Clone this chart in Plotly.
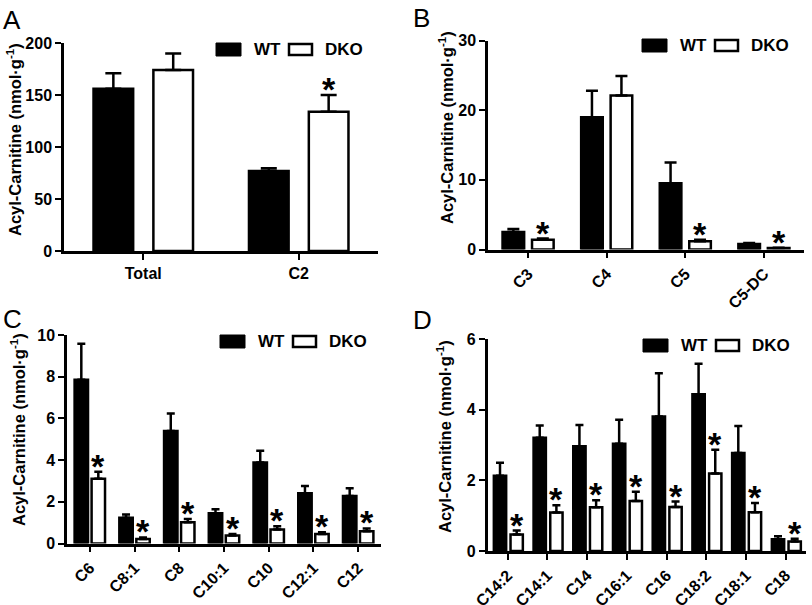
import plotly.graph_objects as go

# ---------------- data ----------------
cats_A = ["Total", "C2"]
wt_A = [156, 77]
wt_A_err = [15, 2.5]
dko_A = [174, 134]
dko_A_err = [16, 16]
sig_A = [False, True]

cats_B = ["C3", "C4", "C5", "C5-DC"]
wt_B = [2.5, 19.0, 9.5, 0.8]
wt_B_err = [0.45, 3.8, 3.0, 0.15]
dko_B = [1.4, 22.1, 1.2, 0.2]
dko_B_err = [0.17, 2.8, 0.2, 0.05]
sig_B = [True, False, True, True]

cats_C = ["C6", "C8:1", "C8", "C10:1", "C10", "C12:1", "C12"]
wt_C = [7.85, 1.23, 5.39, 1.45, 3.88, 2.41, 2.28]
wt_C_err = [1.73, 0.16, 0.85, 0.19, 0.57, 0.35, 0.37]
dko_C = [3.11, 0.22, 1.02, 0.38, 0.67, 0.45, 0.59]
dko_C_err = [0.33, 0.07, 0.16, 0.07, 0.16, 0.09, 0.13]
sig_C = [True] * 7

cats_D = ["C14:2", "C14:1", "C14", "C16:1", "C16", "C18:2", "C18:1", "C18"]
wt_D = [2.13, 3.21, 2.97, 3.04, 3.81, 4.44, 2.78, 0.33]
wt_D_err = [0.37, 0.35, 0.60, 0.68, 1.23, 0.87, 0.76, 0.09]
dko_D = [0.47, 1.09, 1.24, 1.42, 1.25, 2.20, 1.10, 0.27]
dko_D_err = [0.11, 0.21, 0.20, 0.26, 0.15, 0.67, 0.26, 0.08]
sig_D = [True] * 8

y_title = "Acyl-Carnitine (nmol·g<sup>-1</sup>)"

W, H = 812, 605
FONT = "Liberation Sans, Arial, sans-serif"

def px(x):
    return x / W

def py(y):
    return 1 - y / H

panels = [
    dict(letter="A", cats=cats_A, wt=wt_A, wte=wt_A_err, dko=dko_A, dkoe=dko_A_err, sig=sig_A,
         dom=(64, 378, 43, 251), yr=[0, 200], dt=50, angle=0,
         wt_off=-0.32, dko_off=0.065, bw=0.255, cap=8,
         letter_xy=(1, 3), title_xy=(14, 140), legend=(216, 43)),
    dict(letter="B", cats=cats_B, wt=wt_B, wte=wt_B_err, dko=dko_B, dkoe=dko_B_err, sig=sig_B,
         dom=(488, 804, 40.5, 249.5), yr=[0, 30], dt=10, angle=-45,
         wt_off=-0.325, dko_off=0.05, bw=0.275, cap=6,
         letter_xy=(411, 1), title_xy=(446, 128), legend=(642, 39)),
    dict(letter="C", cats=cats_C, wt=wt_C, wte=wt_C_err, dko=dko_C, dkoe=dko_C_err, sig=sig_C,
         dom=(67, 381, 335, 543.5), yr=[0, 10], dt=2, angle=-45,
         wt_off=-0.34, dko_off=0.04, bw=0.30, cap=4,
         letter_xy=(1, 302), title_xy=(18, 430), legend=(220, 335)),
    dict(letter="D", cats=cats_D, wt=wt_D, wte=wt_D_err, dko=dko_D, dkoe=dko_D_err, sig=sig_D,
         dom=(487.5, 806, 339.3, 551), yr=[0, 6], dt=2, angle=-45,
         wt_off=-0.35, dko_off=0.07, bw=0.31, cap=4,
         letter_xy=(411, 303), title_xy=(444, 437), legend=(643, 339)),
]

fig = go.Figure()
annotations = []
shapes = []

for i, p in enumerate(panels):
    n = i + 1
    xa = "x" if n == 1 else f"x{n}"
    ya = "y" if n == 1 else f"y{n}"
    xkey = "xaxis" if n == 1 else f"xaxis{n}"
    ykey = "yaxis" if n == 1 else f"yaxis{n}"
    x0, x1, yt, yb = p["dom"]
    ncat = len(p["cats"])

    for vals, errs, off, fill in [(p["wt"], p["wte"], p["wt_off"], "black"),
                                  (p["dko"], p["dkoe"], p["dko_off"], "white")]:
        fig.add_trace(go.Bar(
            x=p["cats"], y=vals, xaxis=xa, yaxis=ya,
            offset=off, width=p["bw"],
            marker=dict(color=fill, line=dict(color="black", width=2.5)),
            error_y=dict(type="data", array=errs, arrayminus=[0] * len(errs),
                         symmetric=False, color="black", thickness=2.5, width=p["cap"]),
            showlegend=False, hoverinfo="skip",
        ))

    fig.layout[xkey] = dict(
        domain=[px(x0), px(x1)], anchor=ya, type="category", automargin=False,
        range=[-0.51, ncat - 0.49], showline=True, linecolor="black", linewidth=2.5,
        ticks="outside", ticklen=6, tickwidth=2, tickcolor="black",
        tickangle=p["angle"], showgrid=False, zeroline=False,
        tickfont=dict(family=FONT, size=16, color="black", weight="bold"),
    )
    fig.layout[ykey] = dict(
        domain=[py(yb), py(yt)], anchor=xa, range=p["yr"], dtick=p["dt"], automargin=False,
        showline=True, linecolor="black", linewidth=2.5,
        ticks="outside", ticklen=6, tickwidth=2, tickcolor="black",
        showgrid=False, zeroline=False,
        tickfont=dict(family=FONT, size=16, color="black", weight="bold"),
    )

    # significance asterisks
    for j, s in enumerate(p["sig"]):
        if s:
            annotations.append(dict(
                x=j + p["dko_off"] + p["bw"] / 2, y=p["dko"][j] + p["dkoe"][j],
                xref=xa, yref=ya, text="*", showarrow=False,
                yanchor="bottom", xanchor="center", yshift=-14, borderpad=0,
                font=dict(family=FONT, size=34, color="black", weight="bold"),
            ))

    # panel letter
    lx, ly = p["letter_xy"]
    annotations.append(dict(
        x=px(lx), y=py(ly), xref="paper", yref="paper", text=p["letter"],
        showarrow=False, xanchor="left", yanchor="top",
        font=dict(family=FONT, size=26, color="black"),
    ))
    # y title
    tx, ty = p["title_xy"]
    annotations.append(dict(
        x=px(tx), y=py(ty), xref="paper", yref="paper", text=y_title,
        showarrow=False, xanchor="center", yanchor="middle", textangle=-90,
        font=dict(family=FONT, size=16.5, color="black", weight="bold"),
    ))
    # legend
    gx, gy = p["legend"]
    shapes.append(dict(type="rect", xref="paper", yref="paper",
                       x0=px(gx), x1=px(gx + 25), y0=py(gy + 13), y1=py(gy),
                       fillcolor="black", line=dict(color="black", width=1)))
    shapes.append(dict(type="rect", xref="paper", yref="paper",
                       x0=px(gx + 73), x1=px(gx + 96), y0=py(gy + 12), y1=py(gy + 1),
                       fillcolor="white", line=dict(color="black", width=2.5)))
    annotations.append(dict(x=px(gx + 36), y=py(gy + 6.5), xref="paper", yref="paper",
                            text="WT", showarrow=False, xanchor="left", yanchor="middle",
                            font=dict(family=FONT, size=17, color="black", weight="bold")))
    annotations.append(dict(x=px(gx + 107), y=py(gy + 6.5), xref="paper", yref="paper",
                            text="DKO", showarrow=False, xanchor="left", yanchor="middle",
                            font=dict(family=FONT, size=17, color="black", weight="bold")))

fig.update_layout(
    template="none",
    width=W, height=H, margin=dict(l=0, r=0, t=0, b=0, pad=0),
    paper_bgcolor="white", plot_bgcolor="white",
    barmode="overlay", annotations=annotations, shapes=shapes,
    font=dict(family=FONT, color="black"),
)

fig.write_html("out.html", config={"displayModeBar": False},
               post_script="document.body.style.margin='0px';document.body.style.overflow='hidden';")
